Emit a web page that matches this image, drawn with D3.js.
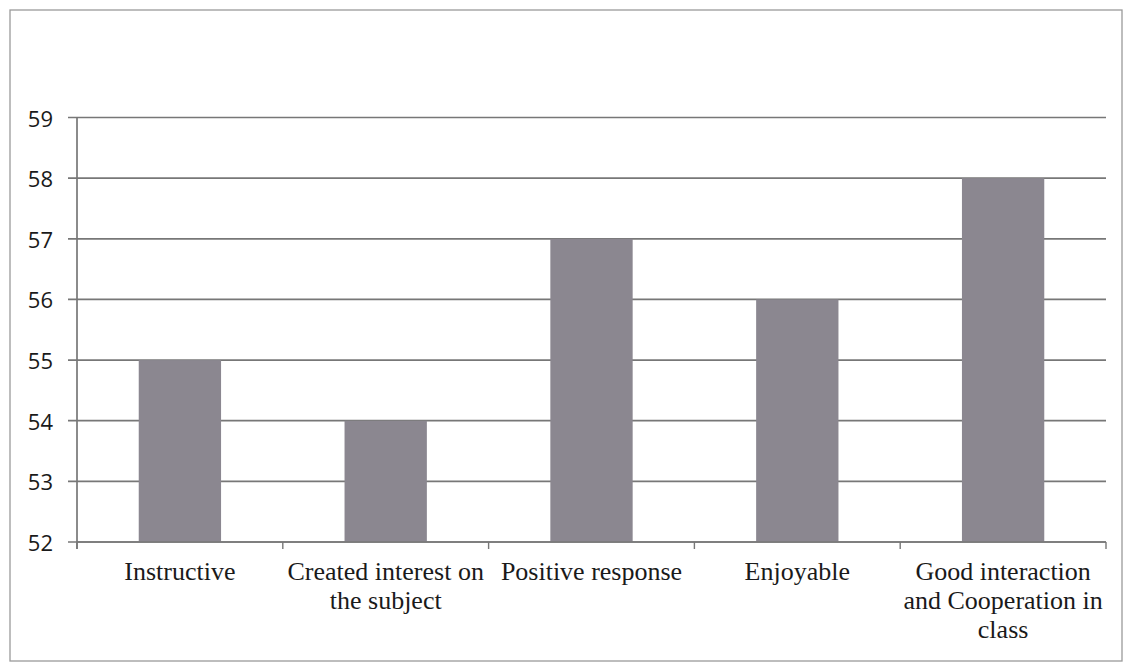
<!DOCTYPE html>
<html>
<head>
<meta charset="utf-8">
<script src="https://cdn.jsdelivr.net/npm/d3@7"></script>
<style>
  html, body { margin: 0; padding: 0; background: #ffffff; }
  svg { display: block; }
</style>
</head>
<body>
<svg id="chart" width="1126" height="664"></svg>
<script>
// ---- data ----
const categories = [
  "Instructive",
  "Created interest on the subject",
  "Positive response",
  "Enjoyable",
  "Good interaction and Cooperation in class"
];
const categoryLines = [
  ["Instructive"],
  ["Created interest on", "the subject"],
  ["Positive response"],
  ["Enjoyable"],
  ["Good interaction", "and Cooperation in", "class"]
];
const values = [55, 54, 57, 56, 58];
const yTicks = [52, 53, 54, 55, 56, 57, 58, 59];

// ---- layout ----
const W = 1126, H = 664;
const plot = { left: 77, right: 1106, top: 117.5, bottom: 542 };
const svg = d3.select("#chart");

// outer frame
svg.append("rect")
  .attr("x", 10).attr("y", 10).attr("width", 1112).attr("height", 651)
  .attr("fill", "none").attr("stroke", "#9a9a9a").attr("stroke-width", 1.3);

const x = d3.scaleBand().domain(categories).range([plot.left, plot.right]).paddingInner(0.6).paddingOuter(0.3);
const xEdges = d3.scaleBand().domain(categories).range([plot.left, plot.right]).padding(0);
const y = d3.scaleLinear().domain([52, 59]).range([plot.bottom, plot.top]);

// gridlines + y tick marks
svg.append("g").selectAll("line").data(yTicks).join("line")
  .attr("x1", plot.left - 9).attr("x2", plot.right)
  .attr("y1", d => y(d)).attr("y2", d => y(d))
  .attr("stroke", "#777777").attr("stroke-width", 1.7);

// y axis line
svg.append("line")
  .attr("x1", plot.left).attr("x2", plot.left)
  .attr("y1", plot.top).attr("y2", plot.bottom + 7)
  .attr("stroke", "#777777").attr("stroke-width", 1.7);

// y labels
svg.append("g").selectAll("text").data(yTicks).join("text")
  .attr("x", 53).attr("y", d => y(d))
  .attr("text-anchor", "end").attr("dominant-baseline", "central")
  .attr("font-family", "'Open Sans', sans-serif").attr("font-size", 22)
  .attr("fill", "#1a1a1a").text(d => d);

// bars
svg.append("g").selectAll("rect").data(values).join("rect")
  .attr("x", (d, i) => x(categories[i]))
  .attr("y", d => y(d))
  .attr("width", x.bandwidth())
  .attr("height", d => y(52) - y(d))
  .attr("fill", "#8b8790");

// x axis baseline
svg.append("line")
  .attr("x1", plot.left).attr("x2", plot.right)
  .attr("y1", plot.bottom).attr("y2", plot.bottom)
  .attr("stroke", "#777777").attr("stroke-width", 1.7);

// x tick marks at band edges
const edges = categories.map(c => xEdges(c)).concat([plot.right]);
svg.append("g").selectAll("line").data(edges).join("line")
  .attr("x1", d => d).attr("x2", d => d)
  .attr("y1", plot.bottom).attr("y2", plot.bottom + 7)
  .attr("stroke", "#777777").attr("stroke-width", 1.4);

// x labels
const lab = svg.append("g").selectAll("text").data(categoryLines).join("text")
  .attr("text-anchor", "middle")
  .attr("font-family", "'Liberation Serif', 'Times New Roman', serif")
  .attr("font-size", 26).attr("fill", "#1a1a1a")
  .attr("transform", (d, i) => `translate(${xEdges(categories[i]) + xEdges.bandwidth() / 2},580)`);
lab.selectAll("tspan").data(d => d).join("tspan")
  .attr("x", 0).attr("y", (d, j) => j * 29).text(d => d);
</script>
</body>
</html>
